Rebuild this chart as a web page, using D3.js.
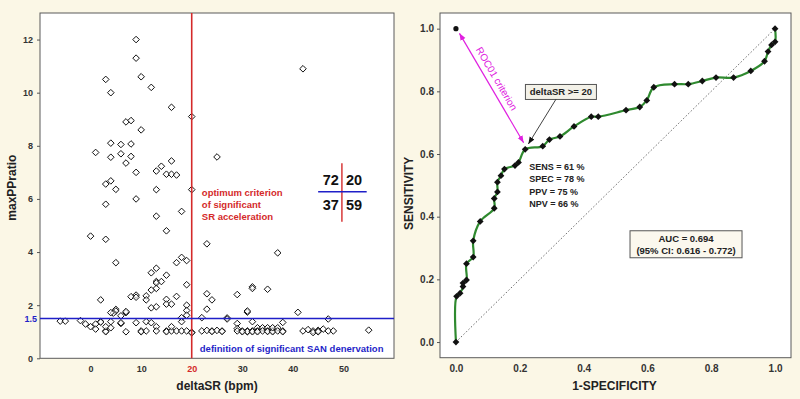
<!DOCTYPE html>
<html>
<head>
<meta charset="utf-8">
<script src="https://cdn.jsdelivr.net/npm/d3@7"></script>
<style>
  body { margin: 0; background: #fbf7e6; }
  svg { display: block; font-family: "Liberation Sans", Arial, sans-serif; font-weight: bold; }
</style>
</head>
<body>
<div id="chart"></div>
<script>
// DATA - scatter deltaSR (bpm) vs maxPPratio
const scatterPts = [
  [9,12.0],[9,11.3],[3,10.5],[4,10.0],[10,10.6],[12,10.2],[16,9.45],[7,8.9],[8,8.95],[10,8.6],
  [4,8.1],[6,8.05],[8,8.07],[1,7.75],[4,7.57],[6,7.7],[8,7.6],[7,7.35],[16,7.43],[9,7.0],
  [13,7.05],[14,7.23],[15,6.93],[16,6.93],[17,6.9],[3,6.56],[4,6.68],[5,6.36],[13,6.35],[9,6.0],
  [3,5.8],[13,5.35],[18,5.53],[15,4.8],[0,4.6],[3,4.48],[5,3.6],[17,3.6],[18,3.8],[19,3.68],
  [12,3.22],[13,3.39],[13,2.89],[13,2.84],[14,2.89],[15,3.13],[13,2.63],[12,2.57],[19,2.77],[2,2.2],
  [8,2.32],[9,2.38],[9,2.3],[11,2.35],[11,2.2],[15,2.22],[15,2.04],[16,2.04],[17,2.33],[12,1.9],
  [13,1.94],[19,2.0],[19,1.8],[19,1.62],[5,1.84],[5,1.78],[4.5,1.7],[4,1.72],[7,1.72],[7,1.76],
  [6,1.6],[18,1.53],
  [20,9.1],[20,6.35],[25,7.58],[42,10.9],[23,4.31],[37,3.97],[23,2.43],[24,2.2],[29,2.4],[32,2.69],
  [32,2.63],[35,2.6],[23,1.85],[22,1.53],[27,1.52],[27,1.48],[31,1.74],[31,1.78],[41,1.73],[47,1.48],
  [-6,1.4],[-5,1.4],[-2,1.42],[-1,1.29],[0,1.19],[1,1.29],[1,1.1],[2,1.38],[2,1.36],[3,1.03],
  [3,1.0],[3,1.19],[4,1.38],[6,1.31],[7,1.0],[9,1.34],[10,1.03],[10,1.0],[11,1.38],[11,1.03],
  [12,1.34],[13,1.19],[13,1.03],[15,1.03],[15,1.0],[16,1.03],[16,1.19],[17,1.03],[18,1.03],[18,1.38],
  [19,1.03],[4,1.15],[6,1.34],
  [20,0.98],[20,0.96],[22,1.03],[23,1.05],[24,1.03],[24,1.01],[25,1.05],[26,1.03],[29,1.31],[29,1.12],
  [29,1.03],[30,1.03],[31,1.03],[31,1.0],[31,1.01],[32,1.03],[32,1.0],[32,1.38],[33,1.15],[33,1.03],
  [34,1.15],[34,1.03],[35,1.15],[35,1.03],[35,1.01],[36,1.03],[36,1.0],[36,1.15],[37,1.15],[37,1.03],
  [38,1.03],[38,1.0],[38,1.35],[42,1.03],[43,1.08],[44,1.03],[44,0.97],[45,1.05],[45,1.03],[45,1.0],
  [46,1.1],[47,1.03],[48,1.03],[55,1.06],[30,1.0],[33,1.0],[26,1.01]
]
const xTicksL = [0, 10, 20, 30, 40, 50]
const yTicksL = [0, 2, 4, 6, 8, 10, 12]
const criterion = 20
const sanLimit = 1.5
const tableCounts = [72, 20, 37, 59]
const criterionText = ["optimum criterion", "of significant", "SR acceleration"]
const sanText = "definition of significant SAN denervation"

// DATA - ROC curve
const fpr = [0, 0.002, 0.013, 0.022, 0.022, 0.033, 0.033, 0.054, 0.054, 0.076,
  0.120, 0.120, 0.130, 0.130, 0.141, 0.152, 0.185, 0.196, 0.217, 0.272,
  0.293, 0.326, 0.370, 0.424, 0.446, 0.533, 0.576, 0.598, 0.620, 0.685,
  0.728, 0.772, 0.815, 0.870, 0.924, 0.967, 0.978, 0.989, 1.0, 1.0]
const tpr = [0, 0.146, 0.156, 0.177, 0.188, 0.198, 0.25, 0.271, 0.323, 0.385,
  0.427, 0.458, 0.479, 0.510, 0.531, 0.552, 0.563, 0.573, 0.615, 0.625,
  0.646, 0.656, 0.688, 0.719, 0.719, 0.740, 0.750, 0.771, 0.813, 0.823,
  0.823, 0.833, 0.844, 0.844, 0.865, 0.896, 0.927, 0.948, 0.958, 1.0]
const rocTicks = [0, 0.2, 0.4, 0.6, 0.8, 1.0]
const statsText = ["SENS = 61 %", "SPEC = 78 %", "PPV = 75 %", "NPV = 66 %"]
const aucText = ["AUC = 0.694", "(95% CI: 0.616 - 0.772)"]
const cutLabel = "deltaSR >= 20"
const cutPoint = [0.217, 0.615]
const idealPoint = [0, 1]

const FONT = '"Liberation Sans", Arial, sans-serif'
const RED = "#d42a2a", BLUE = "#1f1fc8", MAGENTA = "#e020e0", GREEN = "#2f8a2f"

const svg = d3.select("#chart").append("svg")
  .attr("width", 800)
  .attr("height", 399)

svg.append("rect").attr("width", 800).attr("height", 399).attr("fill", "#fbf7e6")

// markers
const defs = svg.append("defs")
function arrowMarker(id, color) {
  defs.append("marker")
    .attr("id", id)
    .attr("viewBox", "0 -5 10 10")
    .attr("refX", 10).attr("refY", 0)
    .attr("markerWidth", 7).attr("markerHeight", 7)
    .attr("markerUnits", "userSpaceOnUse")
    .attr("orient", "auto-start-reverse")
    .append("path")
    .attr("d", "M0,-4L10,0L0,4Z")
    .attr("fill", color)
}
arrowMarker("arrMag", MAGENTA)
arrowMarker("arrBlk", "#111")

function styleAxis(g, size) {
  g.attr("font-family", FONT).attr("font-size", size).attr("font-weight", "bold")
  g.select(".domain").remove()
  g.selectAll(".tick line").attr("stroke", "#555")
  g.selectAll(".tick text").attr("fill", "#333")
}

// ---------- LEFT: scatter ----------
const xL = d3.scaleLinear().domain([-10, 60]).range([40, 394])
const yL = d3.scaleLinear().domain([0, 13]).range([358.3, 13])

svg.append("rect")
  .attr("x", xL.range()[0]).attr("y", yL.range()[1])
  .attr("width", xL.range()[1] - xL.range()[0])
  .attr("height", yL.range()[0] - yL.range()[1])
  .attr("fill", "white").attr("stroke", "#5a5a5a").attr("stroke-width", 1)

const gxL = svg.append("g")
  .attr("transform", `translate(0,${yL.range()[0]})`)
  .call(d3.axisBottom(xL).tickValues(xTicksL).tickSize(0).tickPadding(7))
styleAxis(gxL, 9)
gxL.selectAll(".tick text").filter(d => d === criterion).attr("fill", RED)

const gyL = svg.append("g")
  .attr("transform", `translate(${xL.range()[0]},0)`)
  .call(d3.axisLeft(yL).tickValues(yTicksL).tickSize(3).tickPadding(4))
styleAxis(gyL, 9)

svg.append("text")
  .attr("x", xL.range()[0] - 3).attr("y", yL(sanLimit)).attr("dy", "0.35em")
  .attr("text-anchor", "end").attr("font-size", 9).attr("fill", BLUE)
  .text(sanLimit)

// diamonds
const diamond = "M0,-3.3L3.3,0L0,3.3L-3.3,0Z"
svg.append("g").selectAll("path").data(scatterPts).enter()
  .append("path")
  .attr("d", diamond)
  .attr("transform", d => `translate(${xL(d[0])},${yL(d[1])})`)
  .attr("fill", "white")
  .attr("fill-opacity", 0.6)
  .attr("stroke", "#111")
  .attr("stroke-width", 1)

// criterion lines
svg.append("line")
  .attr("x1", xL(criterion)).attr("x2", xL(criterion))
  .attr("y1", yL.range()[1]).attr("y2", yL.range()[0])
  .attr("stroke", RED).attr("stroke-width", 1.6)
svg.append("line")
  .attr("x1", xL.range()[0]).attr("x2", xL.range()[1])
  .attr("y1", yL(sanLimit)).attr("y2", yL(sanLimit))
  .attr("stroke", BLUE).attr("stroke-width", 1.6)

svg.append("text")
  .attr("x", xL(22)).attr("y", yL(6.1))
  .attr("font-size", 9.5).attr("fill", RED)
  .selectAll("tspan").data(criterionText).enter()
  .append("tspan")
  .attr("x", xL(22)).attr("dy", (d, i) => i ? 11.8 : 0)
  .text(d => d)

svg.append("text")
  .attr("x", xL(21.6)).attr("y", yL(0.25))
  .attr("font-size", 9.5).attr("fill", BLUE)
  .text(sanText)

// 2x2 table
const tx = xL(49.7), ty = yL(6.27)
svg.append("line")
  .attr("x1", tx).attr("x2", tx).attr("y1", yL(7.34)).attr("y2", yL(5.14))
  .attr("stroke", RED).attr("stroke-width", 1.4)
svg.append("line")
  .attr("x1", xL(45)).attr("x2", xL(54.6)).attr("y1", ty).attr("y2", ty)
  .attr("stroke", BLUE).attr("stroke-width", 1.6)
svg.append("g").selectAll("text").data(tableCounts).enter()
  .append("text")
  .attr("x", (d, i) => i % 2 ? tx + 4 : tx - 3)
  .attr("y", (d, i) => i < 2 ? ty - 6.5 : ty + 18)
  .attr("text-anchor", (d, i) => i % 2 ? "start" : "end")
  .attr("font-size", 14.5).attr("fill", "#111")
  .text(d => d)

svg.append("text")
  .attr("x", (xL.range()[0] + xL.range()[1]) / 2).attr("y", 390)
  .attr("text-anchor", "middle").attr("font-size", 12).attr("fill", "#222")
  .text("deltaSR (bpm)")
svg.append("text")
  .attr("transform", `translate(16,${(yL.range()[0] + yL.range()[1]) / 2 + 2}) rotate(-90)`)
  .attr("text-anchor", "middle").attr("font-size", 12).attr("fill", "#222")
  .text("maxPPratio")

// ---------- RIGHT: ROC ----------
const xR = d3.scaleLinear().domain([-0.05, 1.05]).range([440, 791])
const yR = d3.scaleLinear().domain([-0.05, 1.05]).range([357.7, 13])

svg.append("rect")
  .attr("x", xR.range()[0]).attr("y", yR.range()[1])
  .attr("width", xR.range()[1] - xR.range()[0])
  .attr("height", yR.range()[0] - yR.range()[1])
  .attr("fill", "white").attr("stroke", "#5a5a5a").attr("stroke-width", 1)

const gxR = svg.append("g")
  .attr("transform", `translate(0,${yR.range()[0]})`)
  .call(d3.axisBottom(xR).tickValues(rocTicks).tickFormat(d3.format(".1f")).tickSize(0).tickPadding(7))
styleAxis(gxR, 10)

const gyR = svg.append("g")
  .attr("transform", `translate(${xR.range()[0]},0)`)
  .call(d3.axisLeft(yR).tickValues(rocTicks).tickFormat(d3.format(".1f")).tickSize(3).tickPadding(3))
styleAxis(gyR, 10)

// chance diagonal
svg.append("line")
  .attr("x1", xR(0)).attr("y1", yR(0)).attr("x2", xR(1)).attr("y2", yR(1))
  .attr("stroke", "#444").attr("stroke-width", 0.8).attr("stroke-dasharray", "1.5,2")

const rocData = fpr.map((f, i) => [f, tpr[i]])
const rocLine = d3.line()
  .x(d => xR(d[0]))
  .y(d => yR(d[1]))
  .curve(d3.curveCatmullRom.alpha(0.5))

svg.append("path")
  .datum(rocData)
  .attr("d", rocLine)
  .attr("fill", "none")
  .attr("stroke", GREEN)
  .attr("stroke-width", 2.2)

svg.append("g").selectAll("path").data(rocData).enter()
  .append("path")
  .attr("d", "M0,-3.4L3.4,0L0,3.4L-3.4,0Z")
  .attr("transform", d => `translate(${xR(d[0])},${yR(d[1])})`)
  .attr("fill", "#111")

svg.append("circle")
  .attr("cx", xR(idealPoint[0])).attr("cy", yR(idealPoint[1])).attr("r", 2.6)
  .attr("fill", "#111")

// ROC01 arrow
const a0 = [xR(0.011), yR(0.985)], a1 = [xR(0.212), yR(0.636)]
svg.append("line")
  .attr("x1", a0[0]).attr("y1", a0[1]).attr("x2", a1[0]).attr("y2", a1[1])
  .attr("stroke", MAGENTA).attr("stroke-width", 1.2)
  .attr("marker-start", "url(#arrMag)").attr("marker-end", "url(#arrMag)")
const ang = Math.atan2(a1[1] - a0[1], a1[0] - a0[0]) * 180 / Math.PI
svg.append("text")
  .attr("transform", `translate(${xR(0.118)},${yR(0.835)}) rotate(${ang})`)
  .attr("text-anchor", "middle").attr("font-size", 10).attr("font-weight", "normal")
  .attr("fill", MAGENTA)
  .text("ROC01 criterion")

// cut label box + arrow
const bx = xR(0.329), by = yR(0.798)
svg.append("rect")
  .attr("x", bx - 35.5).attr("y", by - 7.5).attr("width", 71).attr("height", 15)
  .attr("fill", "#f3f1e8").attr("stroke", "#555").attr("stroke-width", 1)
svg.append("text")
  .attr("x", bx).attr("y", by).attr("dy", "0.35em")
  .attr("text-anchor", "middle").attr("font-size", 9.5).attr("fill", "#222")
  .text(cutLabel)
svg.append("line")
  .attr("x1", xR(0.313)).attr("y1", by + 7.5)
  .attr("x2", xR(cutPoint[0] + 0.01)).attr("y2", yR(cutPoint[1] + 0.017))
  .attr("stroke", "#111").attr("stroke-width", 0.8)
  .attr("marker-end", "url(#arrBlk)")

// stats
svg.append("g").selectAll("text").data(statsText).enter()
  .append("text")
  .attr("x", xR(0.23))
  .attr("y", (d, i) => yR(0.549) + i * 12.5)
  .attr("font-size", 9).attr("fill", "#222")
  .text(d => d)

// AUC box
const ax = xR(0.721), ay = yR(0.312)
svg.append("rect")
  .attr("x", ax - 56).attr("y", ay - 13.5).attr("width", 112).attr("height", 27)
  .attr("fill", "#fbf8ee").attr("stroke", "#555").attr("stroke-width", 1)
svg.append("g").selectAll("text").data(aucText).enter()
  .append("text")
  .attr("x", ax)
  .attr("y", (d, i) => ay - 5.5 + i * 12)
  .attr("dy", "0.35em")
  .attr("text-anchor", "middle").attr("font-size", 9.5).attr("fill", "#222")
  .text(d => d)

svg.append("text")
  .attr("x", xR(0.5) - 1).attr("y", 390)
  .attr("text-anchor", "middle").attr("font-size", 12).attr("fill", "#222")
  .text("1-SPECIFICITY")
svg.append("text")
  .attr("transform", `translate(413,${(yR.range()[0] + yR.range()[1]) / 2 + 8}) rotate(-90)`)
  .attr("text-anchor", "middle").attr("font-size", 12).attr("fill", "#222")
  .text("SENSITIVITY")
</script>
</body>
</html>
